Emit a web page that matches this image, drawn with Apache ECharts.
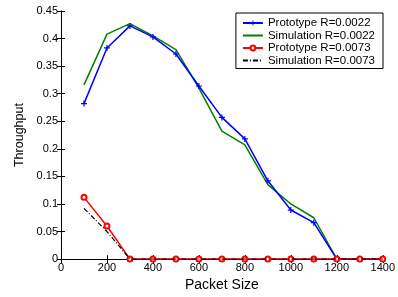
<!DOCTYPE html>
<html>
<head>
<meta charset="utf-8">
<script src="https://cdn.jsdelivr.net/npm/echarts@6/dist/echarts.min.js"></script>
<style>
  html, body { margin: 0; padding: 0; background: #fff; }
  #chart { width: 398px; height: 297px; }
</style>
</head>
<body>
<div id="chart"></div>
<script>
const packetSize = [100, 200, 300, 400, 500, 600, 700, 800, 900, 1000, 1100, 1200, 1300, 1400]
const protoLow = [0.282, 0.383, 0.423, 0.403, 0.372, 0.314, 0.257, 0.218, 0.142, 0.089, 0.066, 0, 0, 0]
const simLow = [0.316, 0.408, 0.427, 0.405, 0.380, 0.310, 0.232, 0.207, 0.135, 0.100, 0.075, 0, 0, 0]
const protoHigh = [0.112, 0.060, 0, 0, 0, 0, 0, 0, 0, 0, 0, 0, 0, 0]
const simHigh = [0.092, 0.050, 0, 0, 0, 0, 0, 0, 0, 0, 0, 0, 0, 0]
const yTicks = [0, 0.05, 0.1, 0.15, 0.2, 0.25, 0.3, 0.35, 0.4, 0.45]

const pair = (ys) => packetSize.map((x, i) => [x, ys[i]])
const plusPath = 'path://M4,0L6,0L6,4L10,4L10,6L6,6L6,10L4,10L4,6L0,6L0,4L4,4Z'
const font = 'Liberation Sans, Arial, sans-serif'

const axisCommon = {
    axisLine: { lineStyle: { color: '#000', width: 1 } },
    axisTick: { inside: true, length: 4, lineStyle: { color: '#000' } },
    splitLine: { show: false },
}

const chart = echarts.init(document.getElementById('chart'))
chart.setOption({
    animation: false,
    backgroundColor: '#fff',
    grid: { left: 61, top: 11, right: 15, bottom: 32 },
    legend: {
        right: 15,
        top: 13,
        orient: 'vertical',
        backgroundColor: '#fff',
        borderColor: '#000',
        borderWidth: 1,
        borderRadius: 0,
        padding: [4, 8, 2, 6],
        itemGap: 0.5,
        itemWidth: 20,
        itemHeight: 6,
        textStyle: { fontFamily: font, fontSize: 11.5, color: '#000', lineHeight: 9 },
        data: [
            { name: 'Prototype R=0.0022' },
            { name: 'Simulation R=0.0022', itemStyle: { opacity: 0 } },
            { name: 'Prototype R=0.0073' },
            { name: 'Simulation R=0.0073', itemStyle: { opacity: 0 } },
        ],
    },
    xAxis: [{
        type: 'value',
        min: 0, max: 1400, interval: 200,
        name: 'Packet Size',
        nameLocation: 'middle',
        nameGap: 15,
        nameTextStyle: { fontFamily: font, fontSize: 14, color: '#000' },
        axisLabel: { fontFamily: font, fontSize: 11, color: '#000', margin: 3, formatter: (v) => String(v) },
        ...axisCommon,
    }, {
        type: 'value', position: 'top',
        min: 0, max: 1400, interval: 200,
        axisLabel: { show: false },
        ...axisCommon,
    }],
    yAxis: [{
        type: 'value',
        min: 0, max: 0.45, interval: 0.05,
        name: 'Throughput',
        nameLocation: 'middle',
        nameGap: 33,
        nameTextStyle: { fontFamily: font, fontSize: 12.5, color: '#000' },
        axisLabel: {
            fontFamily: font, fontSize: 11, color: '#000', margin: 3,
            formatter: (v) => {
                const t = yTicks.find(k => Math.abs(k - v) < 1e-6)
                return t === undefined ? '' : String(t)
            },
        },
        ...axisCommon,
    }, {
        type: 'value', position: 'right',
        min: 0, max: 0.45, interval: 0.05,
        axisLabel: { show: false },
        ...axisCommon,
    }],
    series: [{
        name: 'Prototype R=0.0022',
        type: 'line',
        data: pair(protoLow),
        symbol: plusPath,
        symbolSize: 6,
        itemStyle: { color: '#0000ff' },
        lineStyle: { color: '#0000ff', width: 1.5 },
        z: 3,
    }, {
        name: 'Simulation R=0.0022',
        type: 'line',
        data: pair(simLow),
        symbol: 'none',
        itemStyle: { color: '#008000' },
        lineStyle: { color: '#008000', width: 1.5 },
        z: 2,
    }, {
        name: 'Prototype R=0.0073',
        type: 'line',
        data: pair(protoHigh),
        symbol: 'emptyCircle',
        symbolSize: 5,
        itemStyle: { color: '#ff0000', borderWidth: 1.2 },
        lineStyle: { color: '#ff0000', width: 1.5 },
        z: 4,
    }, {
        name: 'Simulation R=0.0073',
        type: 'line',
        data: pair(simHigh),
        symbol: 'none',
        itemStyle: { color: '#000' },
        lineStyle: { color: '#000', width: 1.2, type: [5, 2, 1, 2] },
        z: 5,
    }],
})
</script>
</body>
</html>
